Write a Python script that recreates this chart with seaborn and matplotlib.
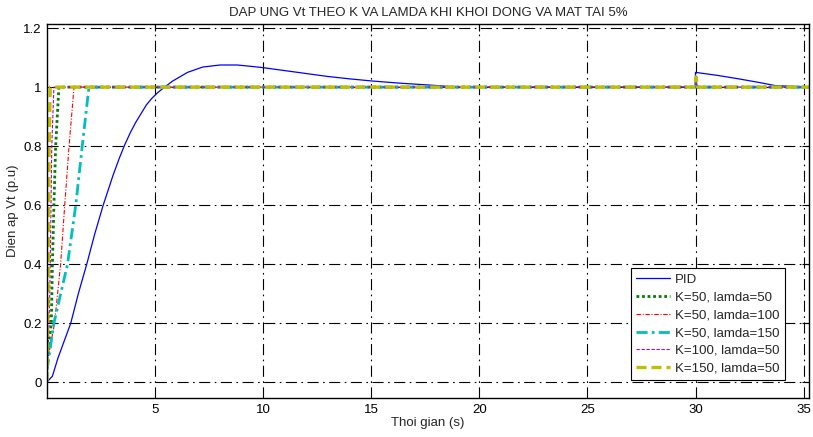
import numpy as np
import pandas as pd
import matplotlib
matplotlib.use("Agg")
import matplotlib.pyplot as plt
import seaborn as sns

# ---- data ----
pid_t = [0, 0.25, 0.5, 0.8, 1.1, 1.45, 1.84, 2.2, 2.6, 3.05, 3.35, 3.6, 3.85, 4.1, 4.35, 4.6,
         4.85, 5.1, 5.35, 5.8, 6.5, 7.2, 8.0, 8.8, 9.5, 10.0, 11.0, 12.0, 13.0, 14.0, 15.0,
         16.4, 17.7, 19.0, 25.0, 29.99, 30.0, 31.0, 32.0, 33.0, 33.7, 35.3]
pid_v = [0, 0.02, 0.08, 0.14, 0.2, 0.3, 0.4, 0.5, 0.6, 0.7, 0.76, 0.805, 0.845, 0.88, 0.91,
         0.94, 0.962, 0.98, 0.995, 1.02, 1.05, 1.068, 1.075, 1.075, 1.07, 1.066, 1.056, 1.046,
         1.036, 1.028, 1.021, 1.013, 1.007, 1.0, 1.0, 1.0, 1.05, 1.04, 1.028, 1.015, 1.005, 1.0]

k50_l50_t = [0, 0.2, 0.25, 0.32, 0.4, 0.55, 30.0, 30.02, 30.1, 35.3]
k50_l50_v = [0.07, 0.2, 0.4, 0.6, 0.8, 1.0, 1.0, 1.01, 1.0, 1.0]

k50_l100_t = [0, 0.35, 0.63, 0.82, 1.02, 1.25, 30.0, 30.02, 30.1, 35.3]
k50_l100_v = [0.06, 0.2, 0.4, 0.6, 0.8, 1.0, 1.0, 1.01, 1.0, 1.0]

k50_l150_t = [0, 0.32, 0.95, 1.33, 1.63, 1.94, 30.0, 30.02, 30.1, 35.3]
k50_l150_v = [0.04, 0.2, 0.4, 0.6, 0.8, 1.0, 1.0, 1.02, 1.0, 1.0]

k100_l50_t = [0, 0.1, 0.15, 0.22, 0.32, 30.0, 30.02, 30.1, 35.3]
k100_l50_v = [0.03, 0.2, 0.4, 0.8, 1.0, 1.0, 1.02, 1.0, 1.0]

k150_l50_t = [0, 0.06, 0.1, 0.15, 30.0, 30.02, 30.1, 35.3]
k150_l50_v = [0.0, 0.4, 0.8, 1.0, 1.0, 1.035, 1.0, 1.0]

labels = ["PID", "K=50, lamda=50", "K=50, lamda=100", "K=50, lamda=150",
          "K=100, lamda=50", "K=150, lamda=50"]
x_ticks = [5, 10, 15, 20, 25, 30, 35]
y_ticks = [0, 0.2, 0.4, 0.6, 0.8, 1.0, 1.2]
y_tick_labels = ["0", "0.2", "0.4", "0.6", "0.8", "1", "1.2"]

title = "DAP UNG Vt THEO K VA LAMDA KHI KHOI DONG VA MAT TAI 5%"
xlabel = "Thoi gian (s)"
ylabel = "Dien ap Vt (p.u)"

# ---- style ----
sns.set_style("white")
plt.rcParams["font.family"] = ["Liberation Sans", "DejaVu Sans"]
plt.rcParams["xtick.direction"] = "in"
plt.rcParams["ytick.direction"] = "in"

FS = 9.5
fig = plt.figure(figsize=(8.13, 4.37), dpi=100)
ax = fig.add_axes([47 / 813, 1 - 398 / 437, (809 - 47) / 813, (398 - 24) / 437])

series = [
    (pid_t, pid_v, dict(color="#0000ff", linestyle="-", lw=0.9)),
    (k50_l50_t, k50_l50_v, dict(color="#008000", linestyle=(0, (1, 1)), lw=2.0)),
    (k50_l100_t, k50_l100_v, dict(color="#ff0000", linestyle=(0, (4, 1.5, 1, 1.5)), lw=0.8)),
    (k50_l150_t, k50_l150_v, dict(color="#00bfbf", linestyle=(0, (4, 1.5, 1, 1.5)), lw=2.0)),
    (k100_l50_t, k100_l50_v, dict(color="#bf00bf", linestyle=(0, (3, 1.5)), lw=0.8)),
    (k150_l50_t, k150_l50_v, dict(color="#bfbf00", linestyle=(0, (3, 1.5)), lw=2.4)),
]
for (t, v, st), lab in zip(series, labels):
    df = pd.DataFrame({"t": t, "v": v})
    sns.lineplot(data=df, x="t", y="v", ax=ax, label=lab, estimator=None, sort=False, **st)

ax.set_xlim(0, 35.25)
ax.set_ylim(-0.054, 1.214)
ax.set_xticks(x_ticks)
ax.set_xticklabels([str(x) for x in x_ticks])
ax.set_yticks(y_ticks)
ax.set_yticklabels(y_tick_labels)
ax.tick_params(axis="both", which="both", direction="in", length=5, width=0.8,
               top=True, right=True, labelsize=FS, colors="black", pad=4)
ax.grid(True, color="black", linestyle=(0, (10, 4, 1.5, 4)), linewidth=0.8)
for s in ax.spines.values():
    s.set_color("black")
    s.set_linewidth(1.0)

ax.set_title(title, fontsize=FS, pad=6)
ax.set_xlabel(xlabel, fontsize=FS, labelpad=1)
ax.set_ylabel(ylabel, fontsize=FS, labelpad=3)

leg = ax.legend(loc="lower right", bbox_to_anchor=(0.968, 0.048), borderaxespad=0,
                fontsize=FS, frameon=True, fancybox=False, framealpha=1,
                edgecolor="black", handlelength=2.6, handletextpad=0.35,
                labelspacing=0.42, borderpad=0.4)
leg.get_frame().set_linewidth(0.8)

fig.savefig("out.png", dpi=100)
